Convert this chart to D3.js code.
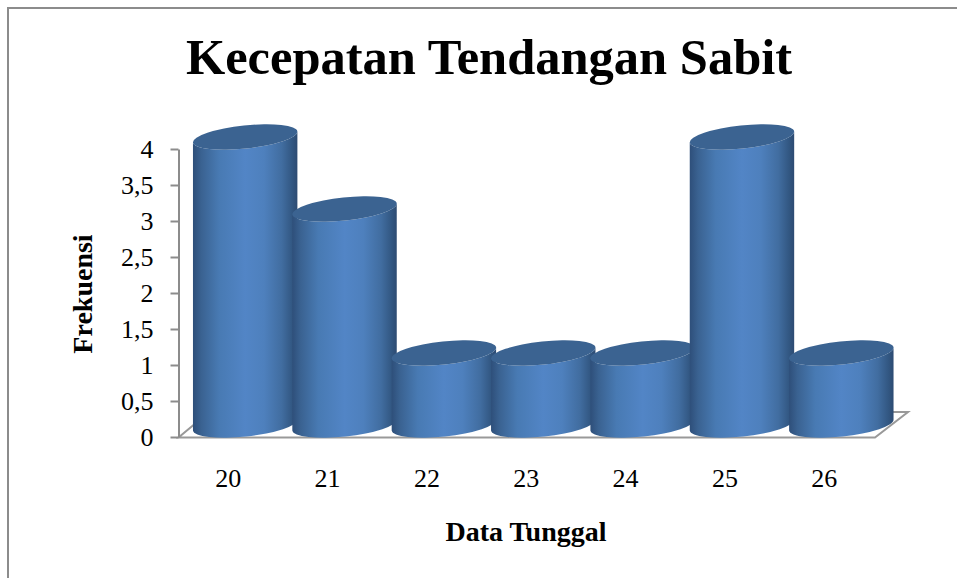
<!DOCTYPE html>
<html><head><meta charset="utf-8">
<script src="https://cdn.jsdelivr.net/npm/d3@7/dist/d3.min.js"></script>
<style>html,body{margin:0;padding:0;background:#fff;overflow:hidden}svg{display:block}text{font-family:"Liberation Serif",serif;fill:#000}</style>
</head><body><svg id="c" width="957" height="578"></svg>
<script>
const categories = ["20","21","22","23","24","25","26"];
const frequencies = [4,3,1,1,1,4,1];
const yTicks = [0,0.5,1,1.5,2,2.5,3,3.5,4];
const titleText = "Kecepatan Tendangan Sabit";
const yTitle = "Frekuensi";
const xTitle = "Data Tunggal";

const svg = d3.select("#c");
const x = d3.scaleBand().domain(categories).range([178.5,874]).padding(0);
const y = d3.scaleLinear().domain([0,4]).range([437,149]);
const grey = "#8c8c8c";

const defs = svg.append("defs");
const grad = defs.append("linearGradient").attr("id","cyl");
[[0,"#2e4f7a"],[0.08,"#3a6291"],[0.25,"#487ab3"],[0.5,"#5285c6"],[0.68,"#4e80bd"],[0.85,"#416da0"],[0.95,"#325782"],[1,"#2d4b72"]]
  .forEach(s=>grad.append("stop").attr("offset",s[0]).attr("stop-color",s[1]));

// chart frame
svg.append("path").attr("d","M8,578V8H957").attr("fill","none").attr("stroke",grey).attr("stroke-width",2);

// floor
const fx0=x.range()[0], fx1=x.range()[1], fy=y(0);
svg.append("path").attr("d",`M${fx0+15},${fy-12}L${fx0},${fy+0.5}H${fx1+1}L${fx1+34},${fy-25}H${fx1+18}`)
  .attr("fill","none").attr("stroke","#999999").attr("stroke-width",2);

// y axis
const ya = svg.append("g").attr("transform",`translate(${fx0},0)`)
  .call(d3.axisLeft(y).tickValues(yTicks).tickSize(8).tickSizeOuter(0).tickPadding(17).tickFormat(d=>String(d).replace(".",",")));
ya.selectAll("path,line").attr("stroke",grey).attr("stroke-width",2);
ya.selectAll("text").attr("font-size",26).attr("font-family","Liberation Serif").attr("fill","#000");

// x axis labels
const xa = svg.append("g").attr("transform",`translate(0,${fy})`)
  .call(d3.axisBottom(x).tickSize(0).tickPadding(32));
xa.select(".domain").remove();
xa.selectAll("text").attr("font-size",26).attr("font-family","Liberation Serif").attr("fill","#000");

// cylinders
const rx=52.5, ry=11.5, rot=-6, dx=17, dy=12;
const ax=rx*Math.cos(rot*Math.PI/180), ay=-rx*Math.sin(rot*Math.PI/180);
const cx=d=>x(d.c)+x.bandwidth()/2+dx;
const data=categories.map((c,i)=>({c,v:frequencies[i]}));
const bars=svg.append("g").selectAll("g").data(data).join("g");
bars.append("path").attr("fill","url(#cyl)").attr("d",d=>{
  const c=cx(d), t=y(d.v)-dy, b=y(0)-dy;
  return `M${c-ax},${t+ay}L${c-ax},${b+ay}A${rx},${ry} ${rot} 0 0 ${c+ax},${b-ay}L${c+ax},${t-ay}A${rx},${ry} ${rot} 0 1 ${c-ax},${t+ay}Z`;
});
bars.append("ellipse").attr("rx",rx).attr("ry",ry).attr("fill","#3b6391")
  .attr("transform",d=>`translate(${cx(d)},${y(d.v)-dy}) rotate(${rot})`);

// titles
svg.append("text").attr("x",489).attr("y",74).attr("text-anchor","middle").attr("font-size",50.5).attr("font-weight","bold").text(titleText);
svg.append("text").attr("transform","translate(92,294) rotate(-90)").attr("text-anchor","middle").attr("font-size",28).attr("font-weight","bold").text(yTitle);
svg.append("text").attr("x",526).attr("y",541).attr("text-anchor","middle").attr("font-size",28).attr("font-weight","bold").text(xTitle);
</script></body></html>
